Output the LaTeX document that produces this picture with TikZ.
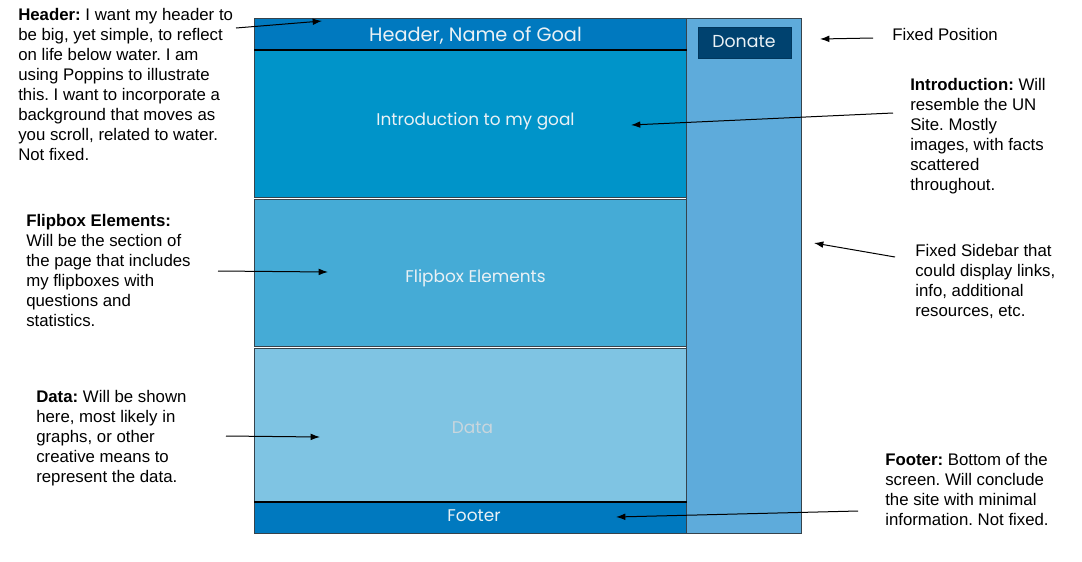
\documentclass[tikz,border=0pt]{standalone}
\usepackage{fontspec}
\setmainfont{Liberation Sans}
\newfontfamily\pop{Poppins}
\usetikzlibrary{arrows.meta}
\definecolor{hdr}{HTML}{0079BF}
\definecolor{intro}{HTML}{0094C9}
\definecolor{flip}{HTML}{45ABD6}
\definecolor{datac}{HTML}{7FC4E3}
\definecolor{side}{HTML}{5EABDB}
\definecolor{don}{HTML}{00426F}
\definecolor{donb}{HTML}{00365C}
\definecolor{edge}{HTML}{36434C}
\definecolor{lbl}{HTML}{EAF1F5}
\definecolor{lblgrey}{HTML}{C9D6DD}
\frenchspacing
\begin{document}
\begin{tikzpicture}[x=0.75pt,y=-0.75pt,
  panel/.style={draw=edge, line width=0.75pt, inner sep=0pt, anchor=north west},
  boxlabel/.style={font=\pop\fontsize{12.7}{15}\selectfont, text=lbl, inner sep=0pt, anchor=base},
  note/.style={font=\frenchspacing\fontsize{12.6}{15}\selectfont, align=left, inner sep=0pt, anchor=north west, text=black},
  pointer/.style={draw=black, line width=0.75pt, -{Latex[length=7pt,width=5pt]}}]
\useasboundingbox[fill=white] (0,0) rectangle (1082,561);

% sidebar
\node[panel, fill=side, minimum width=86.25pt, minimum height=386.25pt] (sidebar) at (686,18) {};
\node[draw=donb, line width=0.75pt, fill=don, inner sep=0pt, anchor=north west, minimum width=69.75pt, minimum height=23.25pt] (donate) at (698,27) {};
\node[boxlabel, font=\pop\fontsize{13}{15}\selectfont] (donatetxt) at (744,47.5) {Donate};

% left column
\node[panel, fill=intro, minimum width=324pt, minimum height=110.25pt] (intro) at (254,50) {};
\node[panel, fill=flip, minimum width=324pt, minimum height=110.25pt] (flip) at (254,199) {};
\node[panel, fill=datac, minimum width=324pt, minimum height=115.5pt] (data) at (254,348) {};
\node[panel, fill=hdr, minimum width=324pt, minimum height=23.25pt] (header) at (254,18) {};
\node[panel, fill=hdr, minimum width=324pt, minimum height=23.25pt] (footer) at (254,502) {};
\draw[black, line width=1.3pt] (header.south west) -- (header.south east);
\draw[black, line width=0.8pt] (footer.north west) -- (footer.north east);

\node[boxlabel, font=\pop\fontsize{14.5}{17}\selectfont] (headertxt) at (475.5,41.5) {Header, Name of Goal};
\node[boxlabel] (introtxt) at (475.5,125.5) {Introduction to my goal};
\node[boxlabel] (fliptxt) at (475.5,282.5) {Flipbox Elements};
\node[boxlabel, text=lblgrey] (datatxt) at (472.5,433.5) {Data};
\node[boxlabel] (footertxt) at (474,521.5) {Footer};

% notes
\node[note] (nheader) at (18,8.5) {\textbf{Header:} I want my header to\\be big, yet simple, to reflect\\on life below water. I am\\using Poppins to illustrate\\this. I want to incorporate a\\background that moves as\\you scroll, related to water.\\Not fixed.};
\node[note] (nfixed) at (892,28.5) {Fixed Position};
\node[note] (nintro) at (910,78.5) {\textbf{Introduction:} Will\\resemble the UN\\Site. Mostly\\images, with facts\\scattered\\throughout.};
\node[note] (nside) at (915,244.5) {Fixed Sidebar that\\could display links,\\info, additional\\resources, etc.};
\node[note] (nflip) at (26,214.5) {\textbf{Flipbox Elements:}\\Will be the section of\\the page that includes\\my flipboxes with\\questions and\\statistics.};
\node[note] (ndata) at (36,390.5) {\textbf{Data:} Will be shown\\here, most likely in\\graphs, or other\\creative means to\\represent the data.};
\node[note] (nfooter) at (885,453.5) {\textbf{Footer:} Bottom of the\\screen. Will conclude\\the site with minimal\\information. Not fixed.};

% arrow ends
\coordinate (hA) at (236,28);  \coordinate (hB) at (322,21);
\coordinate (fA) at (873,38);  \coordinate (fB) at (820,39);
\coordinate (iA) at (893,113); \coordinate (iB) at (631,125);
\coordinate (sA) at (895,257); \coordinate (sB) at (814,243);
\coordinate (lA) at (218,271); \coordinate (lB) at (328,272);
\coordinate (dA) at (226,436); \coordinate (dB) at (320,437);
\coordinate (oA) at (858,511); \coordinate (oB) at (616,517);

\draw[pointer] (hA) -- (hB);
\draw[pointer] (fA) -- (fB);
\draw[pointer] (iA) -- (iB);
\draw[pointer] (sA) -- (sB);
\draw[pointer] (lA) -- (lB);
\draw[pointer] (dA) -- (dB);
\draw[pointer] (oA) -- (oB);
\end{tikzpicture}
\end{document}
